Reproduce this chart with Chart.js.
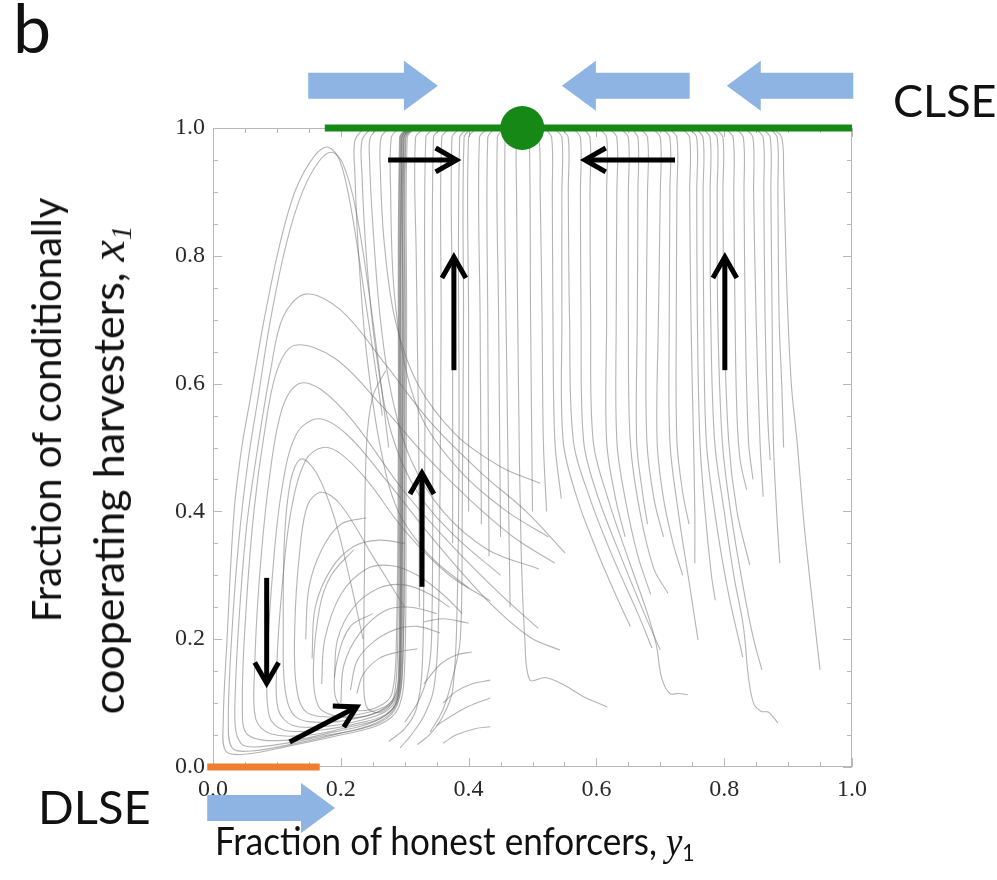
<!DOCTYPE html>
<html><head><meta charset="utf-8">
<script src="https://cdn.jsdelivr.net/npm/chart.js@4/dist/chart.umd.min.js"></script>
<style>
html,body{margin:0;padding:0;background:#fff;}
#wrap{position:relative;width:997px;height:880px;overflow:hidden;background:#fff;}
canvas{position:absolute;left:0;top:0;}
.lbl{position:absolute;font-family:Lato,'Open Sans',sans-serif;color:#111;white-space:nowrap;line-height:1;}
.rot{transform:translate(-50%,-50%) rotate(-90deg);}
.ser{font-family:'Liberation Serif','DejaVu Serif',serif;font-style:italic;}
sub{font-size:0.6em;vertical-align:-0.25em;}
</style></head><body>
<div id="wrap">
<canvas id="c" width="997" height="880"></canvas>
<div class="lbl" style="left:13px;top:-7px;font-size:68px;">b</div>
<div class="lbl" style="left:893px;top:78px;font-size:45px;">CLSE</div>
<div class="lbl" style="left:38px;top:783px;font-size:47px;">DLSE</div>
<div class="lbl rot" style="left:46px;top:410px;font-size:40px;">Fraction of conditionally</div>
<div class="lbl rot" style="left:110px;top:470px;font-size:43px;">cooperating harvesters, <span class="ser" style="font-size:1.12em">x<sub>1</sub></span></div>
<div class="lbl" style="left:215px;top:821px;font-size:39px;transform:scaleX(0.9);transform-origin:0 0;">Fraction of honest enforcers, <span class="ser" style="font-size:1.05em">y</span><sub>1</sub></div>
</div>
<script>
// ---------- axis ticks ----------
const tickValues = [0, 0.2, 0.4, 0.6, 0.8, 1.0];
const tickLabels = ['0.0', '0.2', '0.4', '0.6', '0.8', '1.0'];
const minorTickValues = [0,0.05,0.1,0.15,0.2,0.25,0.3,0.35,0.4,0.45,0.5,0.55,0.6,0.65,0.7,0.75,0.8,0.85,0.9,0.95,1.0];

// ---------- equilibria ----------
const clseLineX = [0.175, 1.0];      // y = 1
const clseDot = [0.484, 1.0];
const dlseLineX = [-0.009, 0.167];   // y = 0

// ---------- trajectories (x = y1, y = x1) ----------
const loopPaths = [
 [[0.265,0.55],[0.24,0.72],[0.215,0.88],[0.198,0.95],[0.18,0.97],[0.16,0.958],[0.13,0.905],[0.105,0.82],[0.08,0.7],[0.058,0.574],[0.045,0.5],[0.033,0.4],[0.022,0.2],[0.016,0.07],[0.02,0.025],[0.05,0.02],[0.12,0.033],[0.2,0.05],[0.26,0.066],[0.29,0.092],[0.3,0.16],[0.302,0.4],[0.303,0.7],[0.304,0.985],[0.315,0.999]],
 [[0.275,0.5],[0.25,0.7],[0.224,0.87],[0.203,0.945],[0.186,0.962],[0.166,0.948],[0.14,0.9],[0.115,0.82],[0.09,0.7],[0.07,0.574],[0.055,0.48],[0.04,0.35],[0.029,0.2],[0.024,0.07],[0.03,0.03],[0.06,0.025],[0.13,0.037],[0.2,0.053],[0.262,0.07],[0.288,0.096],[0.297,0.16],[0.3,0.4],[0.301,0.7],[0.302,0.985],[0.313,0.999]],
 [[0.551,0.335],[0.49,0.4],[0.42,0.46],[0.34,0.54],[0.27,0.63],[0.2,0.715],[0.145,0.74],[0.11,0.705],[0.09,0.62],[0.07,0.5],[0.053,0.38],[0.042,0.25],[0.035,0.12],[0.036,0.055],[0.05,0.033],[0.1,0.035],[0.17,0.048],[0.24,0.063],[0.283,0.09],[0.296,0.15],[0.299,0.4],[0.3,0.7],[0.301,0.985],[0.312,0.999]],
 [[0.535,0.319],[0.47,0.36],[0.4,0.42],[0.33,0.49],[0.26,0.57],[0.19,0.64],[0.128,0.66],[0.1,0.62],[0.08,0.52],[0.064,0.4],[0.052,0.25],[0.046,0.1],[0.055,0.05],[0.12,0.042],[0.19,0.055],[0.25,0.07],[0.285,0.097],[0.295,0.16],[0.297,0.4],[0.298,0.7],[0.299,0.985],[0.31,0.999]],
 [[0.509,0.217],[0.45,0.27],[0.38,0.34],[0.3,0.43],[0.22,0.54],[0.17,0.59],[0.135,0.6],[0.108,0.56],[0.088,0.45],[0.073,0.3],[0.065,0.15],[0.067,0.075],[0.09,0.052],[0.15,0.05],[0.21,0.062],[0.262,0.076],[0.287,0.1],[0.294,0.16],[0.296,0.4],[0.297,0.7],[0.298,0.985],[0.309,0.999]],
 [[0.543,0.183],[0.496,0.203],[0.43,0.26],[0.35,0.35],[0.27,0.45],[0.21,0.52],[0.165,0.545],[0.13,0.52],[0.107,0.43],[0.093,0.3],[0.085,0.16],[0.088,0.08],[0.11,0.058],[0.17,0.058],[0.23,0.069],[0.27,0.082],[0.288,0.105],[0.293,0.17],[0.295,0.4],[0.296,0.985],[0.307,0.999]],
 [[0.434,0.26],[0.37,0.3],[0.3,0.37],[0.24,0.45],[0.2,0.49],[0.172,0.5],[0.145,0.48],[0.122,0.4],[0.108,0.28],[0.1,0.16],[0.102,0.09],[0.125,0.065],[0.18,0.064],[0.235,0.074],[0.272,0.088],[0.288,0.11],[0.292,0.17],[0.294,0.4],[0.296,0.985],[0.306,0.999]],
 [[0.235,0.2],[0.215,0.29],[0.19,0.39],[0.162,0.46],[0.138,0.482],[0.122,0.45],[0.112,0.36],[0.11,0.22],[0.113,0.12],[0.13,0.078],[0.18,0.07],[0.24,0.08],[0.275,0.095],[0.29,0.12],[0.294,0.2],[0.297,0.5],[0.299,0.985],[0.31,0.999]],
 [[0.3,0.25],[0.25,0.33],[0.2,0.41],[0.17,0.43],[0.148,0.41],[0.135,0.33],[0.128,0.22],[0.13,0.13],[0.145,0.087],[0.19,0.078],[0.245,0.086],[0.277,0.1],[0.29,0.13],[0.293,0.3],[0.295,0.985],[0.305,0.999]],
 [[0.27,0.62],[0.25,0.58],[0.24,0.5],[0.237,0.3],[0.236,0.15],[0.24,0.095],[0.26,0.085],[0.28,0.1],[0.29,0.14],[0.292,0.4],[0.294,0.985],[0.304,0.999]]
];

const innerPaths = [
 [[0.22,0.34],[0.185,0.3],[0.167,0.25],[0.157,0.15],[0.165,0.095],[0.19,0.08],[0.23,0.078],[0.265,0.09],[0.283,0.11],[0.289,0.2],[0.291,0.5],[0.293,0.985],[0.303,0.999]],
 [[0.25,0.24],[0.215,0.22],[0.195,0.17],[0.19,0.12],[0.2,0.095],[0.23,0.088],[0.26,0.095],[0.28,0.115],[0.287,0.2],[0.29,0.5],[0.292,0.985],[0.302,0.999]],
 [[0.17,0.13],[0.175,0.2],[0.2,0.27],[0.24,0.31],[0.28,0.315],[0.32,0.3],[0.36,0.27],[0.39,0.24]],
 [[0.19,0.14],[0.195,0.2],[0.22,0.25],[0.26,0.28],[0.3,0.285],[0.34,0.27],[0.37,0.25]],
 [[0.2,0.1],[0.205,0.16],[0.23,0.21],[0.27,0.245],[0.31,0.25],[0.35,0.24]],
 [[0.215,0.12],[0.225,0.165],[0.25,0.195],[0.285,0.215],[0.32,0.22],[0.355,0.21]],
 [[0.225,0.115],[0.235,0.145],[0.26,0.17],[0.29,0.18],[0.32,0.185]],
 [[0.155,0.17],[0.16,0.25],[0.185,0.31],[0.22,0.345],[0.26,0.355],[0.3,0.35]],
 [[0.145,0.2],[0.15,0.28],[0.17,0.34],[0.2,0.38],[0.24,0.39]]
];

const stubPaths = [
 [[0.293,0.03],[0.31,0.05],[0.33,0.08],[0.345,0.12],[0.352,0.2],[0.355,0.4],[0.357,0.7],[0.358,0.985],[0.37,0.999]],
 [[0.32,0.035],[0.34,0.052],[0.36,0.08],[0.375,0.12],[0.382,0.25],[0.385,0.5],[0.386,0.985],[0.398,0.999]],
 [[0.36,0.037],[0.38,0.05],[0.41,0.06],[0.434,0.063]],
 [[0.35,0.065],[0.37,0.078],[0.4,0.095],[0.434,0.108]],
 [[0.36,0.1],[0.38,0.118],[0.405,0.13],[0.434,0.136]],
 [[0.33,0.13],[0.355,0.16],[0.38,0.175],[0.405,0.18]],
 [[0.33,0.227],[0.36,0.232],[0.40,0.225]],
 [[0.34,0.055],[0.36,0.09],[0.375,0.14],[0.387,0.2],[0.39,0.4],[0.392,0.7],[0.393,0.985],[0.404,0.999]],
 [[0.275,0.04],[0.3,0.06],[0.318,0.09],[0.327,0.15],[0.33,0.3],[0.332,0.6],[0.333,0.985],[0.345,0.999]],
 [[0.3,0.07],[0.32,0.1],[0.335,0.14],[0.342,0.2],[0.344,0.5],[0.345,0.985],[0.357,0.999]]
];

const diagonalPaths = [
 [[0.4,0.28],[0.34,0.33],[0.29,0.4],[0.262,0.5],[0.24,0.65],[0.228,0.8],[0.222,0.93],[0.222,0.98],[0.235,0.999]],
 [[0.45,0.3],[0.38,0.36],[0.32,0.43],[0.28,0.52],[0.255,0.65],[0.24,0.8],[0.233,0.93],[0.233,0.98],[0.246,0.999]],
 [[0.51,0.31],[0.43,0.34],[0.36,0.4],[0.31,0.48],[0.28,0.58],[0.262,0.7],[0.25,0.85],[0.245,0.95],[0.246,0.985],[0.258,0.999]],
 [[0.512,0.444],[0.45,0.47],[0.38,0.52],[0.32,0.6],[0.285,0.7],[0.268,0.82],[0.262,0.93],[0.263,0.985],[0.275,0.999]],
 [[0.525,0.36],[0.46,0.4],[0.39,0.46],[0.33,0.54],[0.3,0.63],[0.283,0.75],[0.278,0.9],[0.279,0.985],[0.29,0.999]]
];

const columnPaths = [
 [[0.323,0.25],[0.322,0.5],[0.318,0.8],[0.317,0.985],[0.33,0.999]],
 [[0.375,0.35],[0.375,0.7],[0.374,0.985],[0.386,0.999]],
 [[0.4,0.4],[0.4,0.7],[0.4,0.985],[0.412,0.999]],
 [[0.42,0.38],[0.418,0.7],[0.417,0.985],[0.43,0.999]],
 [[0.432,0.33],[0.43,0.7],[0.43,0.985],[0.44,0.999]],
 [[0.45,0.36],[0.447,0.7],[0.445,0.985],[0.455,0.999]],
 [[0.465,0.25],[0.46,0.6],[0.457,0.985],[0.466,0.999]],
 [[0.617,0.094],[0.58,0.11],[0.55,0.128],[0.52,0.14],[0.496,0.136],[0.488,0.2],[0.482,0.35],[0.478,0.6],[0.475,0.9],[0.475,0.985],[0.48,0.999]],
 [[0.5,0.4],[0.497,0.7],[0.495,0.985],[0.49,0.999]]
];

const rightPaths = [
 [[0.5,0.999],[0.51,0.985],[0.512,0.9],[0.515,0.7],[0.517,0.51],[0.522,0.4]],
 [[0.52,0.999],[0.53,0.985],[0.531,0.9],[0.532,0.7],[0.535,0.51],[0.545,0.42]],
 [[0.535,0.999],[0.546,0.985],[0.546,0.9],[0.546,0.7],[0.548,0.51],[0.57,0.42],[0.6,0.34],[0.63,0.27],[0.653,0.22]],
 [[0.545,0.999],[0.556,0.985],[0.556,0.9],[0.558,0.7],[0.564,0.51],[0.59,0.42],[0.625,0.33],[0.665,0.24],[0.687,0.186]],
 [[0.564,0.999],[0.575,0.985],[0.575,0.9],[0.576,0.7],[0.58,0.51],[0.6,0.43],[0.638,0.33],[0.675,0.24],[0.70,0.183]],
 [[0.58,0.999],[0.59,0.985],[0.59,0.9],[0.591,0.7],[0.595,0.51],[0.618,0.42],[0.652,0.32],[0.68,0.24],[0.694,0.19],[0.702,0.14],[0.715,0.115],[0.728,0.115],[0.743,0.113]],
 [[0.605,0.999],[0.616,0.985],[0.616,0.9],[0.616,0.7],[0.616,0.51],[0.63,0.42],[0.645,0.36]],
 [[0.62,0.999],[0.632,0.985],[0.632,0.9],[0.631,0.7],[0.632,0.51],[0.645,0.42],[0.665,0.33],[0.685,0.27]],
 [[0.638,0.999],[0.65,0.985],[0.65,0.9],[0.65,0.7],[0.653,0.51],[0.668,0.4],[0.69,0.31],[0.712,0.272]],
 [[0.655,0.999],[0.665,0.985],[0.665,0.9],[0.664,0.7],[0.663,0.51],[0.672,0.43],[0.68,0.38]],
 [[0.668,0.999],[0.68,0.985],[0.68,0.9],[0.678,0.7],[0.679,0.51],[0.69,0.42],[0.705,0.36]],
 [[0.688,0.999],[0.70,0.985],[0.70,0.9],[0.697,0.7],[0.695,0.51],[0.705,0.42],[0.72,0.35],[0.735,0.3]],
 [[0.703,0.999],[0.715,0.985],[0.715,0.9],[0.714,0.7],[0.715,0.51],[0.728,0.4],[0.745,0.29],[0.759,0.199]],
 [[0.714,0.999],[0.726,0.985],[0.726,0.9],[0.725,0.7],[0.726,0.51],[0.735,0.43],[0.745,0.38]],
 [[0.734,0.999],[0.746,0.985],[0.746,0.9],[0.748,0.7],[0.752,0.51],[0.754,0.4],[0.754,0.319]],
 [[0.745,0.999],[0.757,0.985],[0.757,0.9],[0.758,0.7],[0.762,0.51],[0.77,0.4],[0.78,0.3],[0.786,0.261]],
 [[0.755,0.999],[0.767,0.985],[0.767,0.9],[0.768,0.7],[0.772,0.51],[0.785,0.4],[0.805,0.28],[0.829,0.172]],
 [[0.766,0.999],[0.778,0.985],[0.778,0.9],[0.779,0.7],[0.785,0.51],[0.8,0.4],[0.815,0.3],[0.83,0.22],[0.838,0.14],[0.846,0.1],[0.858,0.087],[0.869,0.086],[0.884,0.069]],
 [[0.777,0.999],[0.789,0.985],[0.789,0.9],[0.79,0.7],[0.797,0.51],[0.81,0.4],[0.83,0.28],[0.846,0.2],[0.859,0.152]],
 [[0.786,0.999],[0.798,0.985],[0.798,0.9],[0.8,0.7],[0.807,0.51],[0.82,0.4],[0.84,0.316]],
 [[0.802,0.999],[0.814,0.985],[0.815,0.9],[0.817,0.7],[0.82,0.55],[0.825,0.48],[0.835,0.434]],
 [[0.818,0.999],[0.83,0.985],[0.831,0.9],[0.833,0.7],[0.838,0.51],[0.845,0.45]],
 [[0.833,0.999],[0.845,0.985],[0.846,0.9],[0.85,0.7],[0.856,0.51],[0.861,0.423]],
 [[0.849,0.999],[0.861,0.985],[0.862,0.9],[0.864,0.7],[0.868,0.55],[0.872,0.48]],
 [[0.86,0.999],[0.872,0.985],[0.873,0.9],[0.875,0.7],[0.877,0.51],[0.882,0.4],[0.887,0.319]],
 [[0.871,0.999],[0.883,0.985],[0.884,0.9],[0.886,0.7],[0.89,0.6],[0.893,0.5]],
 [[0.876,0.999],[0.89,0.985],[0.893,0.93],[0.898,0.75],[0.905,0.6],[0.914,0.51],[0.925,0.38],[0.94,0.24],[0.95,0.152]]
];

// ---------- annotation arrows ----------
const flowArrows = [   // [fromX, fromY, toX, toY]
 [0.274,0.95,0.381,0.95],
 [0.723,0.95,0.582,0.95],
 [0.377,0.621,0.377,0.798],
 [0.801,0.621,0.801,0.798],
 [0.327,0.282,0.327,0.46],
 [0.084,0.296,0.084,0.131],
 [0.12,0.039,0.225,0.094]
];
const stabilityArrows = [ // [tailX, tipX, y]
 [0.149,0.352,1.066],
 [0.746,0.546,1.066],
 [1.002,0.804,1.066],
 [-0.009,0.191,-0.064]
];

// ---------- build ----------
const trajColor = 'rgba(105,105,105,0.5)';
const toPts = p => p.map(([x,y]) => ({x, y}));
const datasets = [
 {data:[{x:clseDot[0],y:clseDot[1]}], pointRadius:22, pointBackgroundColor:'#168816', pointBorderWidth:0, showLine:false, clip:false},
 {data:clseLineX.map(x=>({x,y:1})), showLine:true, borderColor:'#168816', borderWidth:7, pointRadius:0, clip:false},
 {data:dlseLineX.map(x=>({x,y:0})), showLine:true, borderColor:'#ed7d31', borderWidth:7, pointRadius:0, clip:false}
];
[loopPaths, innerPaths, stubPaths, diagonalPaths, columnPaths, rightPaths].forEach(g => g.forEach(p => {
 datasets.push({data:toPts(p), showLine:true, borderColor:trajColor, borderWidth:1.1, pointRadius:0, tension:0.35});
}));

const framePlugin = {
 id:'frame',
 beforeDatasetsDraw(chart){
  const {ctx, chartArea:a, scales:{x,y}} = chart;
  ctx.save();
  ctx.strokeStyle = '#b8b8b8'; ctx.lineWidth = 1;
  ctx.strokeRect(a.left+0.5, a.top+0.5, a.right-a.left-1, a.bottom-a.top-1);
  ctx.beginPath();
  minorTickValues.forEach((v,i) => {
   const len = (i % 4 === 0) ? 9 : 5;
   const px = Math.round(x.getPixelForValue(v)) + 0.5;
   const py = Math.round(y.getPixelForValue(v)) + 0.5;
   ctx.moveTo(px, a.bottom); ctx.lineTo(px, a.bottom-len);
   ctx.moveTo(px, a.top); ctx.lineTo(px, a.top+len);
   ctx.moveTo(a.left, py); ctx.lineTo(a.left+len, py);
   ctx.moveTo(a.right, py); ctx.lineTo(a.right-len, py);
  });
  ctx.stroke();
  ctx.restore();
 },
 afterDatasetsDraw(chart){
  const {ctx, scales:{x,y}} = chart;
  ctx.save();
  // black flow arrows
  ctx.strokeStyle = '#000'; ctx.lineWidth = 5; ctx.lineCap = 'butt'; ctx.lineJoin = 'miter';
  flowArrows.forEach(([x0,y0,x1,y1]) => {
   const X0 = x.getPixelForValue(x0), Y0 = y.getPixelForValue(y0);
   const X1 = x.getPixelForValue(x1), Y1 = y.getPixelForValue(y1);
   const ang = Math.atan2(Y1-Y0, X1-X0);
   ctx.beginPath(); ctx.moveTo(X0,Y0); ctx.lineTo(X1-3*Math.cos(ang), Y1-3*Math.sin(ang)); ctx.stroke();
   const hl = 24, hw = 0.52;
   ctx.beginPath();
   ctx.moveTo(X1 - hl*Math.cos(ang-hw), Y1 - hl*Math.sin(ang-hw));
   ctx.lineTo(X1, Y1);
   ctx.lineTo(X1 - hl*Math.cos(ang+hw), Y1 - hl*Math.sin(ang+hw));
   ctx.stroke();
  });
  ctx.restore();
 },
 afterDraw(chart){
  const {ctx, scales:{x,y}} = chart;
  ctx.save();
  // blue stability arrows (drawn after axis labels, as in the figure)
  ctx.fillStyle = 'rgb(141,180,226)';
  stabilityArrows.forEach(([t,h,yy]) => {
   const T = x.getPixelForValue(t), H = x.getPixelForValue(h), Y = y.getPixelForValue(yy);
   const dir = Math.sign(H - T), headL = 34, bh = 13, hh = 25;
   const B = H - dir*headL;
   ctx.beginPath();
   ctx.moveTo(T, Y-bh); ctx.lineTo(B, Y-bh); ctx.lineTo(B, Y-hh); ctx.lineTo(H, Y);
   ctx.lineTo(B, Y+hh); ctx.lineTo(B, Y+bh); ctx.lineTo(T, Y+bh); ctx.closePath();
   ctx.fill();
  });
  ctx.restore();
 }
};

const tickFont = {family:"'Liberation Serif','DejaVu Serif',serif", size:24};
new Chart(document.getElementById('c'), {
 type:'scatter',
 data:{datasets},
 options:{
  responsive:false, animation:false, events:[],
  layout:{padding:{left:153, right:145, top:128, bottom:68}},
  plugins:{legend:{display:false}, tooltip:{enabled:false}},
  scales:{
   x:{type:'linear', min:0, max:1,
      grid:{display:false, drawTicks:false}, border:{display:false},
      afterBuildTicks:s=>{s.ticks = tickValues.map(v=>({value:v}));},
      afterFit:s=>{s.height = 45;},
      ticks:{padding:8, color:'#2a2a2a', font:tickFont, maxRotation:0, callback:(v,i)=>tickLabels[i]}},
   y:{type:'linear', min:0, max:1,
      grid:{display:false, drawTicks:false}, border:{display:false},
      afterBuildTicks:s=>{s.ticks = tickValues.map(v=>({value:v}));},
      afterFit:s=>{s.width = 60;},
      ticks:{padding:8, color:'#2a2a2a', font:tickFont, callback:(v,i)=>tickLabels[i]}}
  }
 },
 plugins:[framePlugin]
});
</script>
</body></html>
